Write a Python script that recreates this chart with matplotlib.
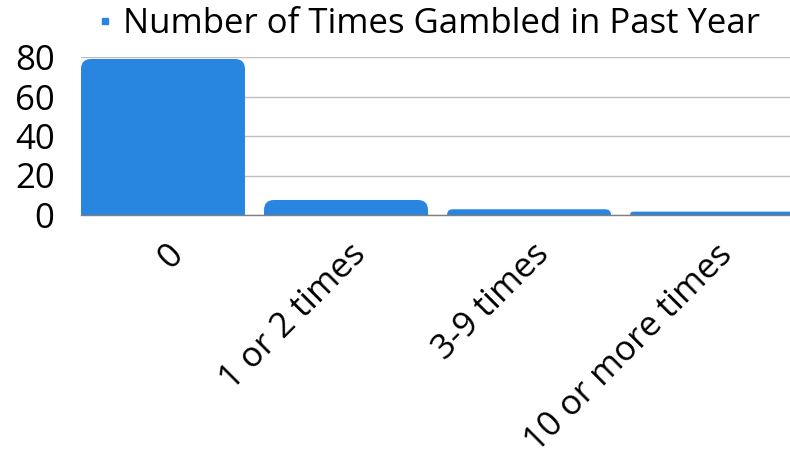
import matplotlib
matplotlib.use('Agg')
import matplotlib.pyplot as plt
import matplotlib.transforms as mtransforms
from matplotlib.patches import FancyBboxPatch
from matplotlib.lines import Line2D

categories = ['0', '1 or 2 times', '3-9 times', '10 or more times']
values = [79, 7.6, 2.9, 1.7]
yticks = [0, 20, 40, 60, 80]
series_name = 'Number of Times Gambled in Past Year'

plt.rcParams['font.family'] = ['Open Sans', 'DejaVu Sans']
FS = 25
color = '#2986E0'

fig = plt.figure(figsize=(7.9, 4.62), dpi=100)
ax = fig.add_axes([81/790, 1-215/462, 1-81/790, (215-57)/462])
x = list(range(len(categories)))
bars = ax.bar(x, values, width=0.896, color=color, zorder=2)
ax.set_xlim(-0.448, 3.426)
ax.set_ylim(0, 80)
ax.set_yticks(yticks)
ax.yaxis.grid(True, color='#BFBFBF', lw=1)
ax.set_axisbelow(True)
for s in ['top', 'right', 'left']:
    ax.spines[s].set_visible(False)
ax.spines['bottom'].set_color('#7F7F7F')
ax.spines['bottom'].set_linewidth(1)
ax.tick_params(axis='both', length=0, labelsize=FS)
ax.tick_params(axis='y', pad=19)
ax.set_xticks(x, categories, rotation=45, ha='right', va='center',
              rotation_mode='anchor')
ax.tick_params(axis='x', pad=22)
shift = mtransforms.ScaledTranslation(15/100, -4/100, fig.dpi_scale_trans)
for lbl in ax.get_xticklabels():
    lbl.set_transform(lbl.get_transform() + shift)

# rounded tops
p0 = ax.transData.transform((0, 0))
p1 = ax.transData.transform((1, 1))
sx = p1[0] - p0[0]
sy = p1[1] - p0[1]
a = sx / sy
for b in bars:
    h = b.get_height()
    r_px = min(10, h * sy)
    dr = r_px / sx
    y0 = -dr * a
    fb = FancyBboxPatch((b.get_x(), y0), b.get_width(), h - y0,
                        boxstyle=f"round,pad=0,rounding_size={dr}",
                        mutation_aspect=a, facecolor=color, edgecolor='none',
                        zorder=2)
    ax.add_patch(fb)
    b.remove()

handle = Line2D([], [], marker='s', color=color, ls='', markersize=4.5,
                label=series_name)
fig.legend(handles=[handle],
           loc='center', bbox_to_anchor=(430/790, 1-24/462), frameon=False,
           fontsize=FS, handlelength=0.3, handletextpad=0.35,
           borderpad=0, borderaxespad=0)

fig.savefig('out.png', dpi=100)
